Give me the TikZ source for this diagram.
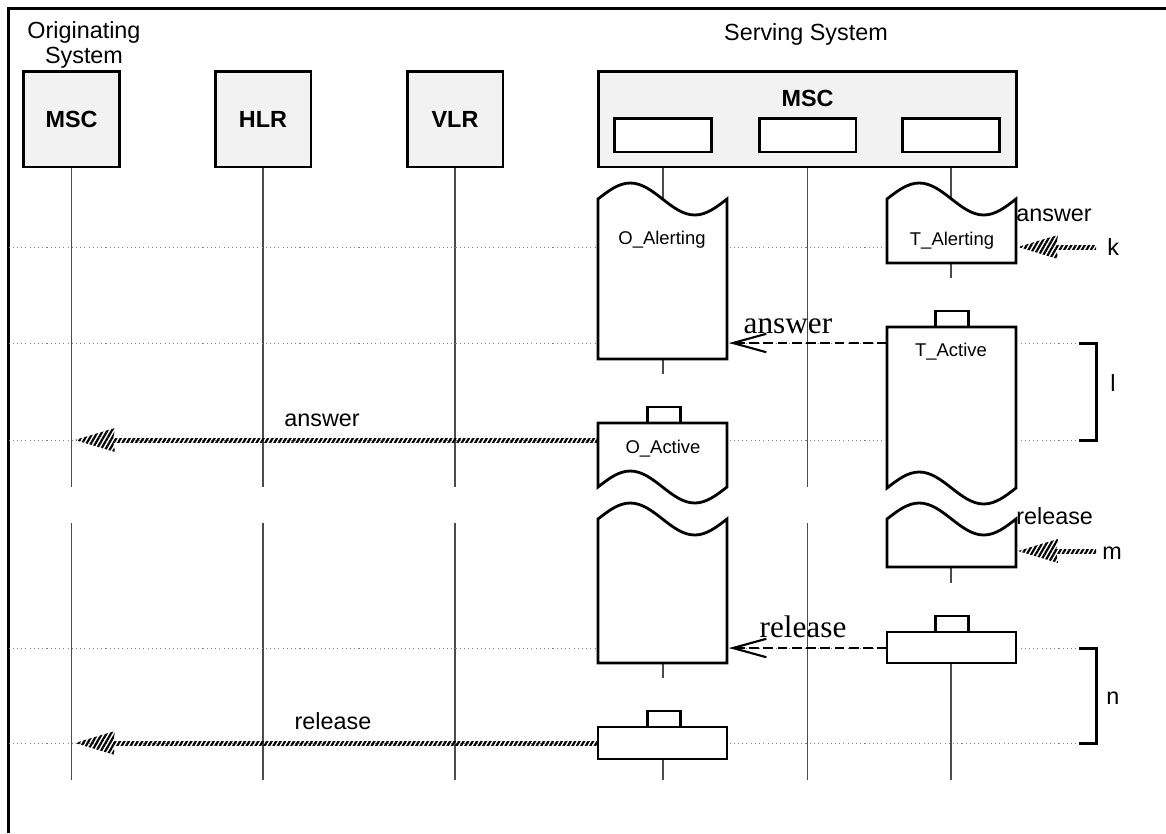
\documentclass[tikz,border=0pt]{standalone}
\usepackage{fontspec}
\setmainfont{Liberation Sans}
\newfontfamily\serifface{Liberation Serif}
\usetikzlibrary{arrows.meta,patterns.meta,calc}

% state symbol with a wavy top: left, right, wave line, bottom
\newcommand{\wavetop}[4]{%
  \draw[sbox] (#1,#4) -- (#1,#3) sin ({#1+(#2-#1)/4},{#3-16}) cos ({(#1+#2)/2},#3)
    sin ({#1+3*(#2-#1)/4},{#3+16}) cos (#2,#3) -- (#2,#4) -- cycle;}
% state symbol cut off at the bottom: left, right, top, wave line
\newcommand{\wavebot}[4]{%
  \draw[sbox] (#1,#3) -- (#1,#4) sin ({#1+(#2-#1)/4},{#4-16}) cos ({(#1+#2)/2},#4)
    sin ({#1+3*(#2-#1)/4},{#4+16}) cos (#2,#4) -- (#2,#3) -- cycle;}
% small tab on top of a state: centre, top of the state
\newcommand{\statetab}[2]{\draw[sbox] ({#1-16},{#2-16}) rectangle ({#1+17},#2);}
% hatched message: from, tip
\newcommand{\hatcharrow}[2]{%
  \fill[hatch] ($(#1)+(0,-2)$) rectangle ($(#2)+(38,2)$);
  \fill[hatch] (#2) -- ($(#2)+(40,-12)$) -- ($(#2)+(38,0)$) -- ($(#2)+(40,12)$) -- cycle;}

\begin{document}
\begin{tikzpicture}[x=0.02cm,y=-0.02cm,
  border/.style={line width=1.7pt},
  ent/.style={draw,line width=1.7pt,fill=black!5,minimum width=1.92cm,minimum height=1.92cm,
    inner sep=0pt,font=\fontsize{13.3}{16}\selectfont\bfseries},
  cpbox/.style={draw,line width=1.7pt,fill=white,minimum width=1.94cm,minimum height=0.68cm,inner sep=0pt},
  life/.style={line width=0.6pt,black!70},
  dots/.style={black!50,line width=0.5pt,dash pattern=on 0.6pt off 1.8pt},
  sbox/.style={draw,line width=1.6pt,fill=white},
  hatch/.style={pattern={Lines[angle=60,distance=2.2pt,line width=1.25pt]}},
  sig/.style={line width=1.2pt,dash pattern=on 5.5pt off 2.6pt,-{Straight Barb[length=19pt,width=10.5pt]}},
  brk/.style={line width=1.7pt},
  lbl/.style={font=\fontsize{13.3}{14.2}\selectfont,inner sep=0pt},
  slbl/.style={font=\fontsize{10.5}{12}\selectfont,inner sep=0pt},
  tlbl/.style={font=\serifface\fontsize{17.8}{20}\selectfont,inner sep=0pt}]
\useasboundingbox (0,0) rectangle (1166,833);
\draw[border] (1166,8.5) -- (8.5,8.5) -- (8.5,833);

% entities
\node[ent] (omsc) at (71.5,119) {MSC};
\node[ent] (hlr) at (263,119) {HLR};
\node[ent] (vlr) at (455,119) {VLR};
\node[ent,minimum width=8.38cm] (smsc) at (807.5,119) {};
\node[ent,draw=none,fill=none,minimum size=0pt,anchor=base] (smsc-l) at (807.5,106) {MSC};
\node[cpbox] (cp1) at (663,135) {};
\node[cpbox] (cp2) at (807.5,135) {};
\node[cpbox] (cp3) at (951,135) {};

\node[lbl,anchor=base,align=center] (orig) at (84,63) {Originating\\System};
\node[lbl,anchor=base] (serv) at (806,40) {Serving System};

% lifelines
\foreach \n in {omsc,hlr,vlr,cp2} {
  \draw[life] (\n |- smsc.south) -- (\n |- 0,487);
  \draw[life] (\n |- 0,523) -- (\n |- 0,780);
}
\draw[life] (cp1 |- smsc.south) -- (cp1 |- 0,374);
\draw[life] (cp1 |- 0,663) -- (cp1 |- 0,678);
\draw[life] (cp1 |- 0,759) -- (cp1 |- 0,780);
\draw[life] (cp3 |- smsc.south) -- (cp3 |- 0,278);
\draw[life] (cp3 |- 0,567) -- (cp3 |- 0,583);
\draw[life] (cp3 |- 0,663) -- (cp3 |- 0,780);

% rows
\foreach \y in {343,440,648,743} \draw[dots] (8.5,\y) -- (1079,\y);
\draw[dots] (8.5,247) -- (1018,247);

% states
\wavetop{598}{727}{199}{359}
\wavetop{887}{1016}{199}{263}
\statetab{951.5}{327}
\wavebot{887}{1016}{327}{488}
\statetab{663.5}{423}
\wavebot{598}{727}{423}{487}
\wavetop{598}{727}{519}{663}
\wavetop{887}{1016}{519}{567}
\statetab{951.5}{632}
\draw[sbox] (887,632) rectangle (1016,663);
\statetab{663.5}{727}
\draw[sbox] (598,727) rectangle (727,759);

\node[slbl,anchor=base] (oalert) at (662,244) {O\_Alerting};
\node[slbl,anchor=base] (talert) at (952,245) {T\_Alerting};
\node[slbl,anchor=base] (tact) at (951,356) {T\_Active};
\node[slbl,anchor=base] (oact) at (663,453) {O\_Active};

% messages
\coordinate (k-in) at (1096,247);
\coordinate (talert-e) at (1018,247);
\hatcharrow{k-in}{talert-e}
\coordinate (tact-w) at (887,343);
\coordinate (oalert-e) at (729,343);
\draw[sig] (tact-w) -- (oalert-e);
\coordinate (oact-w) at (598,440);
\coordinate (omsc-a) at (75,440);
\hatcharrow{oact-w}{omsc-a}
\coordinate (m-in) at (1096,551);
\coordinate (trel-e) at (1018,551);
\hatcharrow{m-in}{trel-e}
\coordinate (trst-w) at (887,648);
\coordinate (ocont-e) at (729,648);
\draw[sig] (trst-w) -- (ocont-e);
\coordinate (orst-w) at (598,743);
\coordinate (omsc-r) at (75,743);
\hatcharrow{orst-w}{omsc-r}

\node[lbl,anchor=base] (ans1) at (322,426) {answer};
\node[lbl,anchor=base] (rel1) at (333,729) {release};
\node[tlbl,anchor=base] (ans2) at (788,333) {answer};
\node[tlbl,anchor=base] (rel2) at (803,637) {release};
\node[lbl,anchor=base west] (ans3) at (1016,221) {answer};
\node[lbl,anchor=base west] (rel3) at (1016,524) {release};

% timers
\draw[brk] (1079,343) -| (1096,440) -- (1079,440);
\draw[brk] (1079,648) -| (1096,743) -- (1079,743);
\node[lbl,anchor=base west] (kk) at (1107,255) {k};
\node[lbl,anchor=base west] (ll) at (1110,391) {l};
\node[lbl,anchor=base west] (mm) at (1102,559) {m};
\node[lbl,anchor=base west] (nn) at (1106,704) {n};
\end{tikzpicture}
\end{document}
